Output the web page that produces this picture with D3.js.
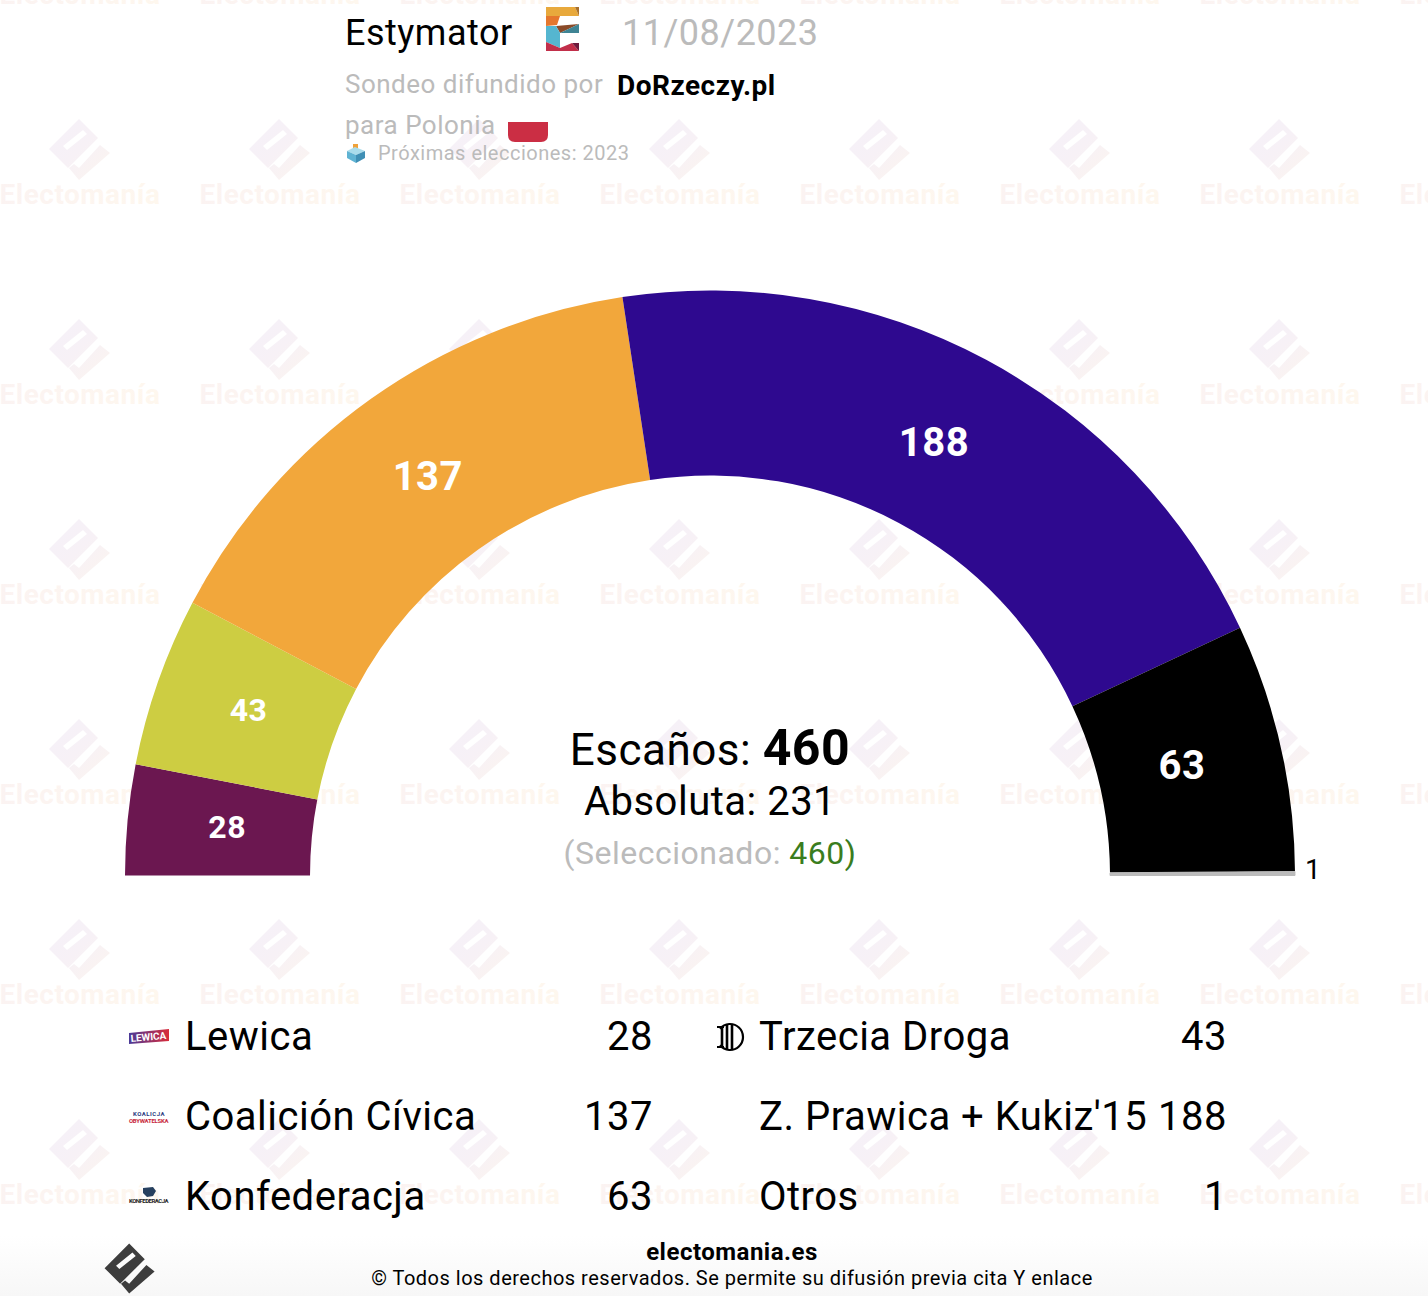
<!DOCTYPE html>
<html>
<head>
<meta charset="utf-8">
<script src="https://cdn.jsdelivr.net/npm/d3@7"></script>
<style>
  html, body { margin: 0; padding: 0; background: #fff; }
  svg { display: block; }
  text { font-family: Roboto, sans-serif; letter-spacing: 0.5px; }
</style>
</head>
<body>
<svg id="chart"></svg>
<script>
var width = 1428,
    height = 1296;

// Seats per party, left to right around the hemicycle
var parties = ['Lewica', 'Trzecia Droga', 'Coalición Cívica', "Z. Prawica + Kukiz'15", 'Konfederacja', 'Otros'];
var seats = [28, 43, 137, 188, 63, 1];
var colors = ['#6b1750', '#cdcd42', '#f2a73b', '#2e098f', '#000000', '#bbbbbb'];

var pollster = 'Estymator';
var pollDate = '11/08/2023';
var source = 'DoRzeczy.pl';
var totalSeats = 460;
var majority = 231;
var selected = 460;

var svg = d3.select('#chart')
  .attr('width', width)
  .attr('height', height);

var defs = svg.append('defs');

var wmIconGrad = defs.append('linearGradient').attr('id', 'wm-icon')
  .attr('x1', 0).attr('y1', 0).attr('x2', 1).attr('y2', 1);
wmIconGrad.append('stop').attr('offset', '0%').attr('stop-color', '#f5f1f9');
wmIconGrad.append('stop').attr('offset', '50%').attr('stop-color', '#f7f1f6');
wmIconGrad.append('stop').attr('offset', '100%').attr('stop-color', '#fcf5ef');

var wmTextGrad = defs.append('linearGradient').attr('id', 'wm-text');
wmTextGrad.append('stop').attr('offset', '0%').attr('stop-color', '#fbf3f2');
wmTextGrad.append('stop').attr('offset', '100%').attr('stop-color', '#fef7ee');

var footGrad = defs.append('linearGradient')
  .attr('id', 'foot-grad')
  .attr('x1', 0).attr('x2', 0).attr('y1', 0).attr('y2', 1);
footGrad.append('stop').attr('offset', '0%').attr('stop-color', '#ffffff');
footGrad.append('stop').attr('offset', '100%').attr('stop-color', '#f7f7f7');

var lewGrad = defs.append('linearGradient').attr('id', 'lew-grad');
lewGrad.append('stop').attr('offset', '0%').attr('stop-color', '#4a3a98');
lewGrad.append('stop').attr('offset', '100%').attr('stop-color', '#d92b3a');

// Electomania logo, drawn around its own centre
var logoPath = 'M-1,-31 L18,-12 L-12,18 L-31,-1 Z M-17,-4 L-13,0 L7,-16 L3,-20 Z ' +
  'M20,-5 L30,3 L-1,30 L-11,18 L-6,14 L-1,18 Z';

// Background watermark
var wmCols = d3.range(0, 8);
var wmRows = d3.range(-1, 6);
var watermark = svg.append('g');
wmRows.forEach(function(r) {
  wmCols.forEach(function(c) {
    var cell = watermark.append('g')
      .attr('transform', 'translate(' + (80 + c * 200) + ',' + (150 + r * 200) + ')');
    cell.append('path')
      .attr('d', logoPath)
      .attr('fill', 'url(#wm-icon)')
      .attr('fill-rule', 'evenodd');
    cell.append('text')
      .attr('y', 54)
      .attr('text-anchor', 'middle')
      .attr('font-size', 28)
      .attr('font-weight', 700)
      .attr('fill', 'url(#wm-text)')
      .text('Electomanía');
  });
});

// Footer band sits on top of the watermark
svg.append('rect')
  .attr('y', 1236)
  .attr('width', width)
  .attr('height', 60)
  .attr('fill', 'url(#foot-grad)');

// Hemicycle
var cx = 710,
    cy = 875.5,
    outerR = 585,
    innerR = 400;

var pie = d3.pie()
  .sort(null)
  .startAngle(-Math.PI / 2)
  .endAngle(Math.PI / 2);

var arc = d3.arc()
  .innerRadius(innerR)
  .outerRadius(outerR);

var labelArc = d3.arc()
  .innerRadius(474)
  .outerRadius(500);

var labelSize = d3.scaleThreshold([50], [32, 40]);
// hand nudges so the labels sit where the original has them
var labelDx = [2, -2, 0, -6, -3];
var labelDy = [-2, -3, 1, -1, 0];

var hemi = svg.append('g')
  .attr('transform', 'translate(' + cx + ',' + cy + ')');

hemi.selectAll('path')
  .data(pie(seats))
  .join('path')
  .attr('d', arc)
  .attr('fill', function(d, i) { return colors[i]; })
  // the one seat wedge is a sliver, thicken it a bit
  .attr('stroke', function(d) { return d.value === 1 ? colors[5] : 'none'; })
  .attr('stroke-width', 1);

hemi.selectAll('text')
  .data(pie(seats).filter(function(d) { return d.value > 1; }))
  .join('text')
  .attr('transform', function(d) { return 'translate(' + labelArc.centroid(d) + ')'; })
  .attr('x', function(d, i) { return labelDx[i]; })
  .attr('y', function(d, i) { return 10.5 + labelDy[i]; })
  .attr('text-anchor', 'middle')
  .attr('font-weight', 700)
  .attr('font-size', function(d) { return labelSize(d.value); })
  .attr('fill', '#fff')
  .text(function(d) { return d.value; });

// The single seat is too thin to hold its label
svg.append('text')
  .attr('x', 1305)
  .attr('y', 879)
  .attr('font-size', 28)
  .attr('fill', '#000')
  .text(seats[5]);

// Centre text
var t1 = svg.append('text').attr('x', cx).attr('y', 765).attr('text-anchor', 'middle').attr('font-size', 44).attr('fill', '#000');
t1.append('tspan').text('Escaños: ');
t1.append('tspan').attr('font-weight', 700).attr('font-size', 50).text(totalSeats);

svg.append('text')
  .attr('x', cx).attr('y', 815)
  .attr('text-anchor', 'middle')
  .attr('font-size', 40)
  .attr('fill', '#000')
  .text('Absoluta: ' + majority);

var t3 = svg.append('text').attr('x', cx).attr('y', 864).attr('text-anchor', 'middle').attr('font-size', 32).attr('fill', '#bbbbbb');
t3.append('tspan').text('(Seleccionado: ');
t3.append('tspan').attr('fill', '#3a7d1e').text(selected);
t3.append('tspan').attr('fill', '#3a7d1e').text(')');

// Header
svg.append('text').attr('x', 345).attr('y', 45).attr('font-size', 36).attr('fill', '#000').text(pollster);
svg.append('text').attr('x', 622).attr('y', 45).attr('font-size', 36).attr('fill', '#bbbbbb').text(pollDate);
svg.append('text').attr('x', 345).attr('y', 93).attr('font-size', 26).attr('fill', '#bbbbbb').text('Sondeo difundido por');
svg.append('text').attr('x', 617).attr('y', 95).attr('font-size', 28).attr('font-weight', 700).attr('fill', '#000').text(source);
svg.append('text').attr('x', 345).attr('y', 134).attr('font-size', 26).attr('fill', '#bbbbbb').text('para Polonia');
svg.append('text').attr('x', 378).attr('y', 160).attr('font-size', 20).attr('fill', '#bbbbbb').text('Próximas elecciones: 2023');

// Polish flag, white half is lost on the page
svg.append('path')
  .attr('d', 'M508,122 H548 V135 Q548,142 541,142 H515 Q508,142 508,135 Z')
  .attr('fill', '#cb2e44');

// Pollster logo
var eLogo = [
  ['#e8a93c', [[546, 7], [575, 7], [579, 16], [546, 16]]],
  ['#a8702c', [[575, 7], [579, 7], [579, 16]]],
  ['#e5772d', [[546, 16], [560, 16], [557, 25], [546, 26]]],
  ['#8a4a28', [[556, 26], [579, 24], [560, 33]]],
  ['#3f8494', [[579, 24], [579, 33], [560, 33]]],
  ['#55b6d0', [[546, 26], [556, 26], [560, 33], [560, 48], [546, 42]]],
  ['#c22f4a', [[546, 42], [560, 48], [572, 43], [579, 51], [546, 51]]],
  ['#6e1b3d', [[572, 43], [579, 43], [579, 51]]]
];
svg.append('g').selectAll('polygon')
  .data(eLogo)
  .join('polygon')
  .attr('points', function(d) { return d[1].join(' '); })
  .attr('fill', function(d) { return d[0]; });

// Ballot box icon
var box = [
  ['#f0a23a', [[353, 144], [358, 144], [358, 151], [353, 151]]],
  ['#a9dcec', [[347, 151], [355, 147], [365, 151], [356, 155]]],
  ['#5fb3d3', [[347, 151], [356, 155], [356, 163], [347, 158]]],
  ['#3f8fb5', [[356, 155], [365, 151], [365, 158], [356, 163]]]
];
svg.append('g').selectAll('polygon')
  .data(box)
  .join('polygon')
  .attr('points', function(d) { return d[1].join(' '); })
  .attr('fill', function(d) { return d[0]; });

// Legend
var rowY = d3.scalePoint([0, 1, 2], [1050, 1210]);
var colName = [185, 759];
var colValue = [653, 1227];

var legend = svg.append('g').selectAll('g')
  .data(parties)
  .join('g');

legend.append('text')
  .attr('x', function(d, i) { return colName[i % 2]; })
  .attr('y', function(d, i) { return rowY(Math.floor(i / 2)); })
  .attr('font-size', 40)
  .attr('fill', '#000')
  .text(function(d) { return d; });

legend.append('text')
  .attr('x', function(d, i) { return colValue[i % 2]; })
  .attr('y', function(d, i) { return rowY(Math.floor(i / 2)); })
  .attr('text-anchor', 'end')
  .attr('font-size', 40)
  .attr('fill', '#000')
  .text(function(d, i) { return seats[i]; });

// Party logos
svg.append('polygon')
  .attr('points', '129,1033 169,1029 169,1041 129,1044')
  .attr('fill', 'url(#lew-grad)');
svg.append('text')
  .attr('transform', 'translate(131,1042) rotate(-5)')
  .attr('font-size', 10).attr('font-weight', 700).attr('fill', '#fff')
  .attr('textLength', 36)
  .text('LEWICA');

svg.append('text').attr('x', 149).attr('y', 1116).attr('text-anchor', 'middle')
  .attr('font-size', 6).attr('font-weight', 700).attr('fill', '#2b3a80').text('KOALICJA');
svg.append('text').attr('x', 149).attr('y', 1123).attr('text-anchor', 'middle')
  .attr('font-size', 6).attr('font-weight', 700).attr('fill', '#c8283c').attr('textLength', 40).text('OBYWATELSKA');

svg.append('path')
  .attr('d', 'M143,1188 L153,1187 L156,1191 L153,1196 L147,1197 L143,1193 Z')
  .attr('fill', '#27405f');
svg.append('text').attr('x', 149).attr('y', 1203).attr('text-anchor', 'middle')
  .attr('font-size', 6).attr('font-weight', 700).attr('fill', '#222').attr('textLength', 40).text('KONFEDERACJA');

var td = svg.append('g').attr('fill', 'none').attr('stroke', '#000');
td.append('path').attr('d', 'M720,1028.7 A13,13 0 1 1 720,1045.3').attr('stroke-width', 2.2);
td.append('path').attr('d', 'M722,1027 V1047 M727,1024 V1050 M732,1024 V1050').attr('stroke-width', 2.6);
td.append('path').attr('d', 'M717,1027 H724 M717,1047 H724').attr('stroke-width', 2);

// Footer
svg.append('path')
  .attr('d', logoPath)
  .attr('transform', 'translate(130,1269) scale(0.82)')
  .attr('fill', '#3d3d3d')
  .attr('fill-rule', 'evenodd');

svg.append('text').attr('x', 732).attr('y', 1260).attr('text-anchor', 'middle')
  .attr('font-size', 24).attr('font-weight', 700).attr('fill', '#000').text('electomania.es');
svg.append('text').attr('x', 732).attr('y', 1285).attr('text-anchor', 'middle')
  .attr('font-size', 20).attr('fill', '#000').text('© Todos los derechos reservados. Se permite su difusión previa cita Y enlace');
</script>
</body>
</html>
